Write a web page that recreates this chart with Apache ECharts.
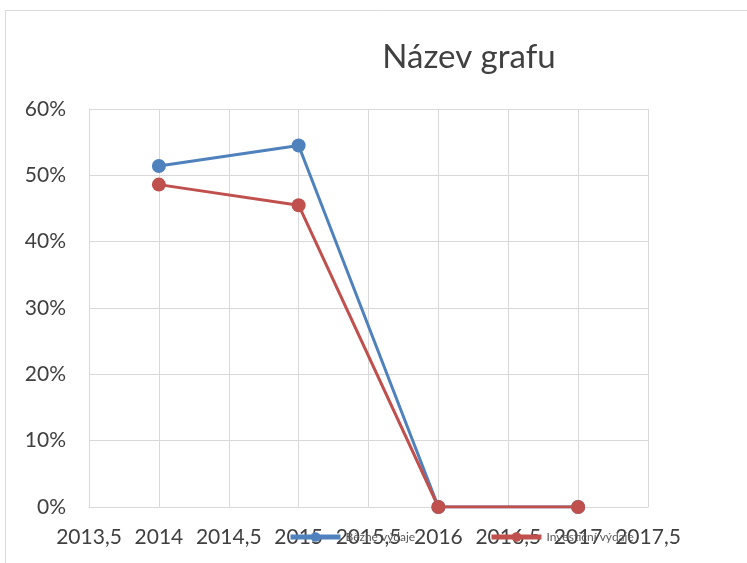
<!DOCTYPE html>
<html>
<head>
<meta charset="utf-8">
<script src="https://cdn.jsdelivr.net/npm/echarts@6/dist/echarts.min.js"></script>
<style>
  html, body { margin: 0; padding: 0; background: #ffffff; }
  #chart { width: 747px; height: 563px; }
</style>
</head>
<body>
<div id="chart"></div>
<script>
// Years on the horizontal value axis
const years = [2014, 2015, 2016, 2017];
// Shares of total spending per year
const bezneVydaje = [0.514, 0.545, 0, 0];
const investicniVydaje = [0.486, 0.455, 0, 0];
const seriesNames = ['Běžné výdaje', 'Investiční výdaje'];
const chartTitle = 'Název grafu';

const FONT = 'Lato, "Liberation Sans", sans-serif';
const GRID = '#d9d9d9';
const TEXT = '#404040';
const BLUE = '#4f81bd';
const RED = '#c0504d';

const pairs = (xs, ys) => xs.map((x, i) => [x, ys[i]]);

const chart = echarts.init(document.getElementById('chart'), null, { renderer: 'canvas' });

const lineSeries = (name, data, color) => ({
  name: name,
  type: 'line',
  data: data,
  symbol: 'circle',
  symbolSize: 14,
  lineStyle: { width: 3, color: color },
  itemStyle: { color: color },
  emphasis: { disabled: true },
  animation: false
});

const legendStyle = {
  orient: 'horizontal',
  itemWidth: 50,
  itemHeight: 12,
  itemGap: 10,
  lineStyle: { width: 5 },
  textStyle: { fontFamily: FONT, fontSize: 12, color: '#595959' },
  top: 526
};

chart.setOption({
  backgroundColor: '#ffffff',
  animation: false,
  title: {
    text: chartTitle,
    left: 464,
    top: 36,
    textAlign: 'center',
    textStyle: { fontFamily: FONT, fontSize: 33, fontWeight: 'normal', color: TEXT }
  },
  graphic: [{
    type: 'rect',
    shape: { x: 5.5, y: 10.5, width: 800, height: 700 },
    style: { fill: 'none', stroke: GRID, lineWidth: 1 },
    silent: true,
    z: -1
  }],
  legend: [
    Object.assign({}, legendStyle, { left: 283, data: [seriesNames[0]] }),
    Object.assign({}, legendStyle, { left: 484, data: [seriesNames[1]] })
  ],
  grid: { left: 89, right: 99, top: 109, bottom: 56, containLabel: false },
  xAxis: {
    type: 'value',
    min: 2013.5,
    max: 2017.5,
    interval: 0.5,
    axisLine: { show: true, lineStyle: { color: GRID } },
    axisTick: { show: false },
    splitLine: { show: true, lineStyle: { color: GRID, width: 1 } },
    axisLabel: {
      margin: 20,
      fontFamily: FONT,
      fontSize: 21,
      color: TEXT,
      formatter: v => String(v).replace('.', ',')
    }
  },
  yAxis: {
    type: 'value',
    min: 0,
    max: 0.6,
    interval: 0.1,
    axisLine: { show: true, lineStyle: { color: GRID } },
    axisTick: { show: false },
    splitLine: { show: true, lineStyle: { color: GRID, width: 1 } },
    axisLabel: {
      margin: 23,
      fontFamily: FONT,
      fontSize: 21,
      color: TEXT,
      formatter: v => Math.round(v * 100) + '%'
    }
  },
  series: [
    lineSeries(seriesNames[0], pairs(years, bezneVydaje), BLUE),
    lineSeries(seriesNames[1], pairs(years, investicniVydaje), RED)
  ]
});
</script>
</body>
</html>
